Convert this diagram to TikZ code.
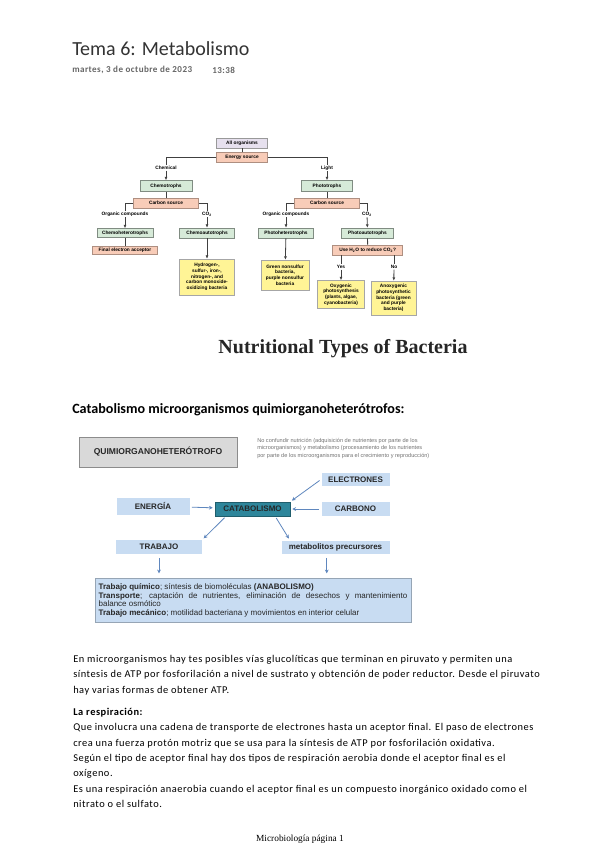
\documentclass[tikz,border=0pt]{standalone}
\usepackage{fontspec}
\setmainfont{Carlito}
\newfontfamily\bodyf[LetterSpace=5]{Carlito}
\newfontfamily\arialf{Liberation Sans}
\newfontfamily\timesf{Liberation Serif}
\usetikzlibrary{calc,arrows.meta}
\newdimen\pxu \pxu=0.75pt
\definecolor{orgcol}{RGB}{230,224,238}
\definecolor{salmon}{RGB}{248,204,184}
\definecolor{mint}{RGB}{214,234,216}
\definecolor{lemon}{RGB}{255,244,150}
\definecolor{skyb}{RGB}{200,220,242}
\definecolor{tealc}{RGB}{46,134,155}
\definecolor{arrowb}{RGB}{95,135,190}
\definecolor{greyb}{RGB}{217,217,217}
\tikzset{
  tbox/.style={draw=black!40, line width=0.4pt, inner sep=0pt, align=center,
    font=\arialf\bfseries\fontsize{3.6}{4.3}\selectfont},
  orgbox/.style={tbox, fill=orgcol},
  srcbox/.style={tbox, fill=salmon, draw=salmon!70!black},
  typebox/.style={tbox, fill=mint, draw=mint!60!black},
  examplebox/.style={tbox, fill=lemon, draw=black!35},
  lbl/.style={font=\arialf\bfseries\fontsize{3.6}{4.3}\selectfont, inner sep=0.5pt},
  link/.style={line width=0.6pt, black!75},
  down/.style={link, -{Latex[length=2.5pt,width=2.2pt]}},
  bluebox/.style={fill=skyb, inner sep=0pt, text=black!85,
    font=\arialf\bfseries\fontsize{6}{7}\selectfont},
  barrow/.style={arrowb, line width=0.6pt, -{Stealth[length=2.8pt,width=2.8pt]},
    shorten >=1.5pt, shorten <=1.5pt},
}
\begin{document}
\begin{tikzpicture}[x=0.75pt,y=-0.75pt]
	%%%%% PAGE %%%%%
	\fill[white] (0,0) rectangle (601,848);
	\useasboundingbox (0,0) rectangle (601,848);
	
	\node[anchor=west, inner sep=0pt, text=black!80, font=\fontsize{15}{18}\selectfont] (title) at (72,49) {Tema 6: Metabolismo};
	\node[anchor=west, inner sep=0pt, text=black!60, font=\bodyf\bfseries\fontsize{6.8}{8}\selectfont] (date) at (72,70) {martes, 3 de octubre de 2023};
	\node[anchor=west, inner sep=0pt, text=black!60, font=\bodyf\bfseries\fontsize{6.8}{8}\selectfont] (hour) at (212,70) {13:38};
	
	%%%%% NUTRITIONAL TYPES %%%%%
	\node[orgbox, minimum width=51\pxu, minimum height=10\pxu] (all) at (242,143) {All organisms};
	\node[srcbox, minimum width=51\pxu, minimum height=10\pxu] (energy) at (242,157) {Energy source};
	\node[lbl] (chem) at (166,168) {Chemical};
	\node[lbl] (light) at (327,168) {Light};
	\node[typebox, minimum width=52\pxu, minimum height=11\pxu] (chemo) at (166,186) {Chemotrophs};
	\node[typebox, minimum width=51\pxu, minimum height=11\pxu] (photo) at (327,186) {Phototrophs};
	\node[srcbox, minimum width=65\pxu, minimum height=10\pxu] (csl) at (166,203) {Carbon source};
	\node[srcbox, minimum width=65\pxu, minimum height=10\pxu] (csr) at (327,203) {Carbon source};
	\node[lbl] (orgl) at (125,214) {Organic compounds};
	\node[lbl] (co2l) at (207,214) {CO\textsubscript{2}};
	\node[lbl] (orgr) at (286,214) {Organic compounds};
	\node[lbl] (co2r) at (367,214) {CO\textsubscript{2}};
	\node[typebox, minimum width=56\pxu, minimum height=9\pxu] (chemohet) at (125,233) {Chemoheterotrophs};
	\node[typebox, minimum width=55\pxu, minimum height=10\pxu] (chemoaut) at (207,233) {Chemoautotrophs};
	\node[typebox, minimum width=55\pxu, minimum height=10\pxu] (photohet) at (286,233) {Photoheterotrophs};
	\node[typebox, minimum width=52\pxu, minimum height=10\pxu] (photoaut) at (367.5,233) {Photoautotrophs};
	\node[srcbox, minimum width=65\pxu, minimum height=8\pxu] (final) at (125,250) {Final electron acceptor};
	\node[srcbox, minimum width=70\pxu, minimum height=10\pxu] (h2o) at (367.7,250) {Use H\textsubscript{2}O to reduce CO\textsubscript{2}?};
	\node[lbl] (yes) at (341,267) {Yes};
	\node[lbl] (no) at (394,267) {No};
	\node[examplebox, minimum width=55\pxu, minimum height=36\pxu] (hydro) at (207,277) {Hydrogen-,\\sulfur-, iron-,\\nitrogen-, and\\carbon monoxide-\\oxidizing bacteria};
	\node[examplebox, minimum width=48\pxu, minimum height=30\pxu] (nonsulfur) at (285,275) {Green nonsulfur\\bacteria,\\purple nonsulfur\\bacteria};
	\node[examplebox, minimum width=47\pxu, minimum height=28\pxu] (oxy) at (341,294.5) {Oxygenic\\photosynthesis\\(plants, algae,\\cyanobacteria)};
	\node[examplebox, minimum width=45\pxu, minimum height=34\pxu] (anoxy) at (393.5,298) {Anoxygenic\\photosynthetic\\bacteria (green\\and purple\\bacteria)};
	
	\draw[link] (all) -- (energy);
	\draw[link] (energy.west) -| (chem.north);
	\draw[link] (energy.east) -| (light.north);
	\draw[down] (chem) -- (chemo);
	\draw[down] (light) -- (photo);
	\draw[link] (chemo) -- (csl);
	\draw[link] (photo) -- (csr);
	\draw[link] (csl.west) -| (orgl.north);
	\draw[link] (csl.east) -| (co2l.north);
	\draw[link] (csr.west) -| (orgr.north);
	\draw[link] (csr.east) -| (co2r.north);
	\draw[down] (orgl) -- (chemohet);
	\draw[down] (co2l) -- (chemoaut);
	\draw[down] (orgr) -- (photohet);
	\draw[down] (co2r) -- (photoaut);
	\draw[link] (chemohet) -- (final);
	\draw[link] (photoaut) -- (h2o);
	\draw[down] (chemoaut) -- (hydro);
	\draw[down] (photohet) -- (nonsulfur);
	\draw[link] (h2o.south -| yes) -- (yes);
	\draw[link] (h2o.south -| no) -- (no);
	\draw[down] (yes) -- (oxy);
	\draw[down] (no) -- (anoxy);
	
	\node[font=\timesf\bfseries\fontsize{15}{17}\selectfont, text=black!85] (nutri) at (343,348.5) {Nutritional Types of Bacteria};
	
	%%%%% CATABOLISMO %%%%%
	\node[anchor=west, inner sep=0pt, font=\bfseries\fontsize{10.6}{12}\selectfont] (cathead) at (72,410) {Catabolismo microorganismos quimiorganoheterótrofos:};
	
	\node[draw=black!45, fill=greyb, minimum width=158\pxu, minimum height=30\pxu, text=black!85, font=\arialf\bfseries\fontsize{6.4}{7}\selectfont] (quimio) at (158,452) {QUIMIORGANOHETERÓTROFO};
	\node[anchor=north west, align=left, inner sep=0pt, text=black!55, font=\arialf\fontsize{4.2}{5.6}\selectfont] (note) at (257,438) {No confundir nutrición (adquisición de nutrientes por parte de los\\microorganismos) y metabolismo (procesamiento de los nutrientes\\por parte de los microorganismos para el crecimiento y reproducción)};
	
	\node[bluebox, minimum width=68\pxu, minimum height=13.5\pxu] (electrones) at (355.5,479.3) {ELECTRONES};
	\node[bluebox, minimum width=68\pxu, minimum height=14\pxu] (carbono) at (355.5,509) {CARBONO};
	\node[bluebox, minimum width=73\pxu, minimum height=17\pxu] (energia) at (153,506) {ENERGÍA};
	\node[fill=tealc, draw=tealc!70!black, inner sep=0pt, minimum width=75\pxu, minimum height=14\pxu, text=black!85, font=\arialf\bfseries\fontsize{6}{7}\selectfont] (catab) at (252.5,509) {CATABOLISMO};
	\node[bluebox, minimum width=86\pxu, minimum height=14\pxu] (trabajo) at (159,547) {TRABAJO};
	\node[bluebox, minimum width=108\pxu, minimum height=13\pxu] (metab) at (335.5,547) {metabolitos precursores};
	\node[anchor=north west, fill=skyb, draw=skyb!75!black, line width=0.3pt, inner xsep=2.6pt, inner ysep=0pt, text width=231.5pt, minimum height=33pt, align=justify, text=black!85, font=\arialf\fontsize{6}{6.4}\selectfont] (work) at (95,578) {\hyphenpenalty=10000 \textbf{Trabajo químico}; síntesis de biomoléculas \textbf{(ANABOLISMO)}\\
	\textbf{Transporte}; captación de nutrientes, eliminación de desechos y mantenimiento\linebreak balance osmótico\\
	\textbf{Trabajo mecánico}; motilidad bacteriana y movimientos en interior celular};
	
	\draw[barrow] (energia) -- (catab);
	\draw[barrow] (carbono) -- (catab);
	\draw[barrow] (electrones.west) -- (catab.north east);
	\draw[barrow] ($(catab.south)!0.6!(catab.south east)$) -- ($(metab.north west)!0.08!(metab.north east)$);
	\draw[barrow] ($(catab.south west)!0.3!(catab.south)$) -- (trabajo.north east);
	\draw[barrow, shorten <=3pt, shorten >=3.5pt] (trabajo.south) -- (trabajo.south |- work.north);
	\draw[barrow, shorten <=3pt, shorten >=3.5pt] ([xshift=-6.6pt]metab.south) -- ([xshift=-6.6pt]metab.south |- work.north);
	
	%%%%% TEXT %%%%%
	\node[anchor=north west, align=left, inner sep=0pt, font=\bodyf\fontsize{7.8}{11.6}\selectfont] (para) at (73,655) {En microorganismos hay tes posibles vías glucolíticas que terminan en piruvato y permiten una\\
	síntesis de ATP por fosforilación a nivel de sustrato y obtención de poder reductor. Desde el piruvato\\
	hay varias formas de obtener ATP.};
	\node[anchor=north west, align=left, inner sep=0pt, font=\bodyf\fontsize{7.8}{11.5}\selectfont] (resp) at (73,708) {\textbf{La respiración:}\\
	Que involucra una cadena de transporte de electrones hasta un aceptor final. El paso de electrones\\
	crea una fuerza protón motriz que se usa para la síntesis de ATP por fosforilación oxidativa.\\
	Según el tipo de aceptor final hay dos tipos de respiración aerobia donde el aceptor final es el\\
	oxígeno.\\
	Es una respiración anaerobia cuando el aceptor final es un compuesto inorgánico oxidado como el\\
	nitrato o el sulfato.};
	
	\node[font=\timesf\fontsize{7}{8}\selectfont] (footer) at (300,839) {Microbiología página 1};
\end{tikzpicture}
\end{document}
